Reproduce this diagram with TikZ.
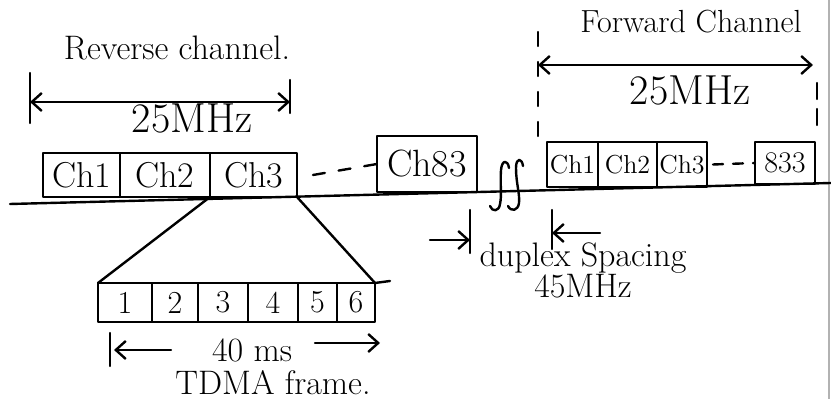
\documentclass[tikz,border=0pt]{standalone}
\usepackage{tikz}
\usetikzlibrary{arrows.meta,positioning}
\tikzset{
  ink/.style={line width=1.2pt, line cap=round, line join=round},
  hand/.style={font=\fontsize{#1}{#1}\selectfont},
  chbox/.style={draw, ink, inner sep=0pt, outer sep=0pt, anchor=south west},
  slot/.style={draw, ink, inner sep=0pt, outer sep=0pt, minimum height=19.5pt, hand=16},
  barb/.style={-{Straight Barb[length=5pt,width=9pt]}},
  dimarrow/.style={{Straight Barb[length=5pt,width=9pt]}-{Straight Barb[length=5pt,width=9pt]}}
}

\begin{document}
\begin{tikzpicture}[x=0.5pt,y=-0.5pt]
   \useasboundingbox (0,0) rectangle (831,399);

   % edge of the sheet
   \draw[gray!60, line width=0.6pt] (829,0) -- (829,399);

   % base line
   \coordinate (bw) at (10,204);
   \coordinate (be) at (831,183);
   \draw[ink] (bw) -- (be);

   % reverse channel boxes
   \node[chbox, minimum width=38.5pt, minimum height=22pt, hand=18] (rch1) at (43,197) {Ch1};
   \node[chbox, minimum width=45pt, minimum height=22pt, hand=18, right=0pt of rch1] (rch2) {Ch2};
   \node[chbox, minimum width=43.5pt, minimum height=22pt, hand=18, right=0pt of rch2] (rch3) {Ch3};
   \node[chbox, minimum width=50pt, minimum height=28pt, hand=19] (rch83) at (377,192) {Ch83};
   \draw[ink, dash pattern=on 6pt off 7pt] ([xshift=8pt]rch3.east) -- (rch83.west);

   % forward channel boxes
   \node[chbox, minimum width=25.5pt, minimum height=22.5pt, hand=13] (fch1) at (547,187) {Ch1};
   \node[chbox, minimum width=29.5pt, minimum height=22.5pt, hand=13, right=0pt of fch1] (fch2) {Ch2};
   \node[chbox, minimum width=25pt, minimum height=22.5pt, hand=13, right=0pt of fch2] (fch3) {Ch3};
   \node[chbox, minimum width=30pt, minimum height=21pt, hand=15] (f833) at (755,184) {833};
   \draw[ink, dash pattern=on 5pt off 5pt] ([xshift=3pt]fch3.east) -- (f833.west);

   % break mark
   \draw[ink] (509,168) .. controls (508,160) and (502,159) .. (501,170)
      .. controls (500,185) and (502,195) .. (500,204) .. controls (499,212) and (492,212) .. (490,206);
   \draw[ink] (523,166) .. controls (522,158) and (516,157) .. (516,168)
      .. controls (516,183) and (520,194) .. (519,203) .. controls (518,211) and (511,212) .. (508,206);

   % reverse channel width
   \coordinate (rl) at (30,102);
   \coordinate (rr) at (290,102);
   \draw[ink] ([yshift=14.5pt]rl) -- ([yshift=-10.5pt]rl);
   \draw[ink] ([yshift=11pt]rr) -- ([yshift=-5.5pt]rr);
   \draw[ink, dimarrow] (rl) -- (rr);
   \node[hand=17] (revlbl) at (177,48) {Reverse channel.};
   \node[hand=21] (revbw) at (192,119) {25MHz};

   % forward channel width
   \coordinate (fl) at (538,65);
   \coordinate (fr) at (813,65);
   \coordinate (frt) at (817,83);
   \draw[ink, dash pattern=on 7pt off 8pt] ([yshift=16.5pt]fl) -- ([yshift=-36pt]fl);
   \draw[ink, dash pattern=on 8pt off 5pt] (frt) -- ([yshift=-25pt]frt);
   \draw[ink, dimarrow] (fl) -- (fr);
   \node[hand=16] (fwdlbl) at (691,22) {Forward Channel};
   \node[hand=21] (fwdbw) at (690,91) {25MHz};

   % TDMA frame
   \node[slot, minimum width=27pt, anchor=north west] (ts1) at (98,283) {1};
   \node[slot, minimum width=23pt, right=0pt of ts1] (ts2) {2};
   \node[slot, minimum width=25pt, right=0pt of ts2] (ts3) {3};
   \node[slot, minimum width=25pt, right=0pt of ts3] (ts4) {4};
   \node[slot, minimum width=19.5pt, right=0pt of ts4] (ts5) {5};
   \node[slot, minimum width=19pt, right=0pt of ts5] (ts6) {6};
   \coordinate (tn) at (390,281);
   \draw[ink] (ts6.north east) -- (tn);
   \draw[ink] (rch3.south west) -- (ts1.north west);
   \draw[ink] (rch3.south east) -- (ts6.north east);

   % frame length
   \node[hand=17] (ms) at (252,350) {40 ms};
   \coordinate (tb) at (110,350);
   \coordinate (te) at (380,343);
   \draw[ink] ([yshift=8.5pt]tb) -- ([yshift=-8pt]tb);
   \draw[ink, barb] ([xshift=-17pt]ms.west) -- ([xshift=2pt]tb);
   \draw[ink, barb] ([xshift=8pt,yshift=3.5pt]ms.east) -- (te);
   \node[hand=17] (tdma) at (273,383) {TDMA frame.};

   % duplex spacing
   \coordinate (dl) at (470,240);
   \coordinate (dr) at (552,233);
   \draw[ink] ([yshift=15pt]dl) -- ([yshift=-6.5pt]dl);
   \draw[ink] ([yshift=11.5pt]dr) -- ([yshift=-8pt]dr);
   \draw[ink, barb] ([xshift=-20pt]dl) -- (dl);
   \draw[ink, barb] ([xshift=24pt]dr) -- (dr);
   \node[hand=17] (dup) at (583,258) {duplex Spacing};
   \node[hand=17] (dupbw) at (583,286) {45MHz};

\end{tikzpicture}
\end{document}
